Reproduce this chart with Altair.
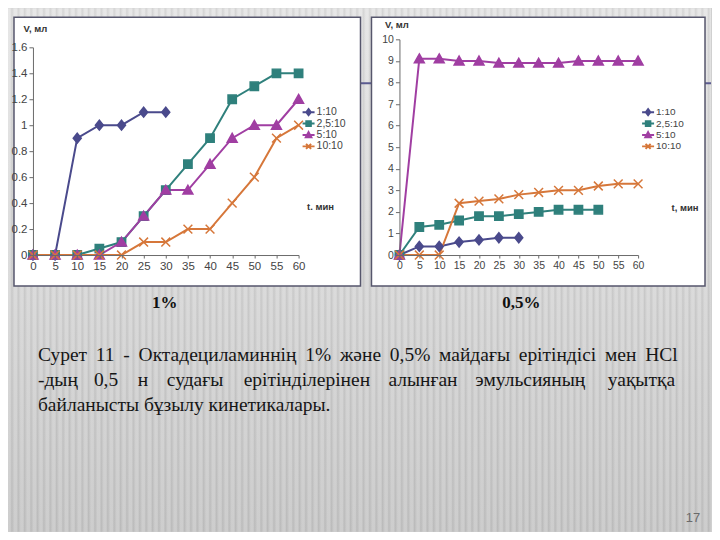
import altair as alt
import pandas as pd

# ---------------- data ----------------
t = [0, 5, 10, 15, 20, 25, 30, 35, 40, 45, 50, 55, 60]
series_names = ["1:10", "2,5:10", "5:10", "10:10"]

# 1 % solution
left_1_10 = [0, 0, 0.9, 1.0, 1.0, 1.1, 1.1]
left_25_10 = [0, 0, 0, 0.05, 0.1, 0.3, 0.5, 0.7, 0.9, 1.2, 1.3, 1.4, 1.4]
left_5_10 = [0, 0, 0, 0, 0.1, 0.3, 0.5, 0.5, 0.7, 0.9, 1.0, 1.0, 1.2]
left_10_10 = [0, 0, 0, 0, 0, 0.1, 0.1, 0.2, 0.2, 0.4, 0.6, 0.9, 1.0]

# 0,5 % solution
right_1_10 = [0, 0.4, 0.4, 0.6, 0.7, 0.8, 0.8]
right_25_10 = [0, 1.3, 1.4, 1.6, 1.8, 1.8, 1.9, 2.0, 2.1, 2.1, 2.1]
right_5_10 = [0, 9.1, 9.1, 9.0, 9.0, 8.9, 8.9, 8.9, 8.9, 9.0, 9.0, 9.0, 9.0]
right_10_10 = [0, 0, 0, 2.4, 2.5, 2.6, 2.8, 2.9, 3.0, 3.0, 3.2, 3.3, 3.3]

left_y_ticks = [0, 0.2, 0.4, 0.6, 0.8, 1, 1.2, 1.4, 1.6]
right_y_ticks = [0, 1, 2, 3, 4, 5, 6, 7, 8, 9, 10]

panel_labels = ["1%", "0,5%"]
caption_line1_words = ["Сурет", "11", "-", "Октадециламиннің", "1%", "және", "0,5%",
                       "майдағы", "ерітіндісі", "мен", "HCl"]
caption_line2_words = ["-дың", "0,5", "н", "судағы", "ерітінділерінен", "алынған",
                       "эмульсияның", "уақытқа"]
caption_line3 = "байланысты бұзылу кинетикалары."
page_number = "17"

# ---------------- styles ----------------
colors = ["#4a4a8c", "#2f807c", "#a03ea2", "#d6773a"]
shape_paths = [
    "M0,-0.62L0.5,0L0,0.62L-0.5,0Z",                   # diamond
    "M-0.52,-0.52L0.52,-0.52L0.52,0.52L-0.52,0.52Z",    # square
    "M0,-0.6L0.62,0.5L-0.62,0.5Z",                     # triangle
    "M-0.55,-0.55L0.55,0.55M-0.55,0.55L0.55,-0.55",     # x
]
# legend symbols: short line with the marker on it
legend_paths = [
    "M-1,0L1,0M0,-0.5L0.38,0L0,0.5L-0.38,0Z",
    "M-1,0L1,0M-0.38,-0.38L0.38,-0.38L0.38,0.38L-0.38,0.38Z",
    "M-1,0L1,0M0,-0.48L0.46,0.36L-0.46,0.36Z",
    "M-1,0L1,0M-0.42,-0.42L0.42,0.42M-0.42,0.42L0.42,-0.42",
]
SANS = "Liberation Sans"
SERIF = "Liberation Serif"


def long_df(lists):
    rows = []
    for name, vals in zip(series_names, lists):
        for ti, v in zip(t, vals):
            rows.append({"t": ti, "v": v, "series": name, "series2": name})
    return pd.DataFrame(rows)


left_df = long_df([left_1_10, left_25_10, left_5_10, left_10_10])
right_df = long_df([right_1_10, right_25_10, right_5_10, right_10_10])


def panel(df, y_dom, y_ticks, y_range, leg_xy, ytitle_xy, xtitle, xtitle_xy, lab_fs, leg_fs):
    axis_common = dict(
        grid=False, domainColor="#6a6a6a", tickColor="#6a6a6a", labelColor="#444444",
        labelFont=SANS, labelFontSize=lab_fs, titleFont=SANS, titleFontSize=9.5,
        titleFontWeight="bold", titleColor="#333333", titleAngle=0,
        titleAlign="left", titleBaseline="alphabetic", zindex=2,
        labelExpr="'' + datum.value", labelFlush=False, labelOverlap=False,
    )
    x = alt.X(
        "t:Q",
        scale=alt.Scale(domain=[0, 60], nice=False),
        axis=alt.Axis(values=t, title=xtitle, titleX=xtitle_xy[0], titleY=xtitle_xy[1],
                      tickSize=3, labelPadding=2, **axis_common),
    )
    y = alt.Y(
        "v:Q",
        scale=alt.Scale(domain=y_dom, range=y_range, nice=False),
        axis=alt.Axis(values=y_ticks, title="V, мл", titleX=ytitle_xy[0],
                      titleY=ytitle_xy[1], tickSize=4, labelPadding=2, **axis_common),
    )
    color_scale = alt.Scale(domain=series_names, range=colors)
    lines = alt.Chart(df).mark_line(strokeWidth=2).encode(
        x=x, y=y,
        color=alt.Color("series:N", sort=series_names, scale=color_scale, legend=None),
    )
    points = alt.Chart(df).mark_point(filled=True, size=256, strokeWidth=1.5, opacity=1).encode(
        x=x, y=y,
        fill=alt.Fill("series:N", sort=series_names, scale=color_scale, legend=None),
        stroke=alt.Stroke("series:N", sort=series_names, scale=color_scale, legend=None),
        shape=alt.Shape("series:N", sort=series_names,
                        scale=alt.Scale(domain=series_names, range=shape_paths), legend=None),
    )
    leg = alt.Legend(
        title=None, orient="none", legendX=leg_xy[0], legendY=leg_xy[1],
        symbolSize=144, symbolStrokeWidth=2, symbolOpacity=1, labelFontSize=leg_fs,
        labelFont=SANS, labelColor="#444444", clipHeight=11, rowPadding=0.4, labelOffset=1,
        padding=0, zindex=3,
    )
    # legend-only layer: no rows are drawn, entries come from the explicit scale domain
    legend_layer = alt.Chart(df).transform_filter("false").mark_point(
        filled=True, strokeWidth=2, opacity=1).encode(
        x=x, y=y,
        fill=alt.Fill("series2:N", sort=series_names,
                      scale=alt.Scale(domain=series_names, range=colors), legend=leg),
        stroke=alt.Stroke("series2:N", sort=series_names,
                          scale=alt.Scale(domain=series_names, range=colors), legend=leg),
        shape=alt.Shape("series2:N", sort=series_names,
                        scale=alt.Scale(domain=series_names, range=legend_paths), legend=leg),
    )
    return [lines, points, legend_layer]


one = alt.Data(values=[{}])

# decorations (pixel coordinates relative to the left plot origin)
BG_X0, BG_X1, BG_Y0, BG_Y1 = -25, 679, -31, 493
bg = alt.Chart(one).mark_rect(
    fill=alt.LinearGradient(
        gradient="linear", x1=0, x2=0, y1=0, y2=1,
        stops=[alt.GradientStop(color="#e2e2e2", offset=0),
               alt.GradientStop(color="#d4d4d4", offset=0.5),
               alt.GradientStop(color="#c2c2c2", offset=1)],
    )
).encode(x=alt.value(BG_X0), x2=alt.value(BG_X1), y=alt.value(BG_Y0), y2=alt.value(BG_Y1))

stripe_stops = []
for i in range(110):
    base = i / 110.0
    w = 1 / 110.0
    stripe_stops += [
        alt.GradientStop(color="#ffffff", offset=base),
        alt.GradientStop(color="#ffffff", offset=base + w * 0.35),
        alt.GradientStop(color="#9a9a9a", offset=base + w * 0.6),
        alt.GradientStop(color="#ffffff", offset=min(base + w * 0.999, 1)),
    ]
stripes = alt.Chart(one).mark_rect(
    opacity=0.18,
    fill=alt.LinearGradient(gradient="linear", x1=0, x2=1, y1=0, y2=0, stops=stripe_stops),
).encode(x=alt.value(BG_X0), x2=alt.value(BG_X1), y=alt.value(BG_Y0), y2=alt.value(BG_Y1))

blue_line = alt.Chart(one).mark_rule(color="#5b5b90", strokeWidth=2).encode(
    x=alt.value(328), x2=alt.value(BG_X1), y=alt.value(44))

box_left = alt.Chart(one).mark_rect(fill="white", stroke="#56566c", strokeWidth=1.5).encode(
    x=alt.value(-19), x2=alt.value(328), y=alt.value(-22), y2=alt.value(247))
box_right = alt.Chart(one).mark_rect(fill="white", stroke="#56566c", strokeWidth=1.5).encode(
    x=alt.value(339), x2=alt.value(673), y=alt.value(-22), y2=alt.value(247))

lbl1 = alt.Chart(one).mark_text(font=SERIF, fontSize=17, fontWeight="bold", color="#111111",
                                align="center", baseline="middle").encode(
    x=alt.value(132), y=alt.value(264), text=alt.value(panel_labels[0]))
lbl2 = alt.Chart(one).mark_text(font=SERIF, fontSize=17, fontWeight="bold", color="#111111",
                                align="center", baseline="middle").encode(
    x=alt.value(489), y=alt.value(264), text=alt.value(panel_labels[1]))

cap_style = dict(font=SERIF, fontSize=19.5, color="#161616", baseline="middle")
cap1 = alt.Chart(one).mark_text(align="left", **cap_style).encode(
    x=alt.value(5), y=alt.value(316),
    text=alt.value(" \u2009".join(caption_line1_words)))
cap3 = alt.Chart(one).mark_text(align="left", **cap_style).encode(
    x=alt.value(5), y=alt.value(366), text=alt.value(caption_line3))
# justified second line: word start positions
word_x = [5, 61, 105, 134, 211, 356, 443, 643]
cap2 = [
    alt.Chart(one).mark_text(align=("right" if i == len(word_x) - 1 else "left"), **cap_style).encode(
        x=alt.value(wx), y=alt.value(341), text=alt.value(w))
    for i, (w, wx) in enumerate(zip(caption_line2_words, word_x))
]
pnum = alt.Chart(one).mark_text(font=SANS, fontSize=13, color="#6a6a6a",
                                align="center", baseline="middle").encode(
    x=alt.value(661), y=alt.value(479), text=alt.value(page_number))

left_layers = panel(left_df, [0, 1.6], left_y_ticks, [216, 8],
                    (269, 67.5), (-10, -8), "t. мин", (274, -46), 11.5, 10.5)
right_layers = panel(right_df, [0, 10], right_y_ticks, [216, 0],
                     (242, 67.5), (-15, -12), "t, мин", (272, -45), 10.5, 10)

indep = dict(fill="independent", stroke="independent", shape="independent")
left = alt.layer(bg, stripes, blue_line, box_left, box_right, lbl1, lbl2, cap1, *cap2, cap3, pnum,
                 *left_layers).resolve_scale(**indep).resolve_legend(**indep).properties(
    width=266, height=216)
right = alt.layer(*right_layers).resolve_scale(**indep).resolve_legend(**indep).properties(
    width=239, height=216)

chart = alt.hconcat(left, right, spacing=101, bounds="flush").resolve_scale(
    x="independent", y="independent", color="independent", fill="independent",
    stroke="independent", shape="independent",
).resolve_legend(
    color="independent", fill="independent", stroke="independent", shape="independent",
).properties(
    padding=0,
    background="#d0d0d0",
).configure_view(stroke=None)

chart.save("out.html", embed_options={"renderer": "svg", "actions": False})
